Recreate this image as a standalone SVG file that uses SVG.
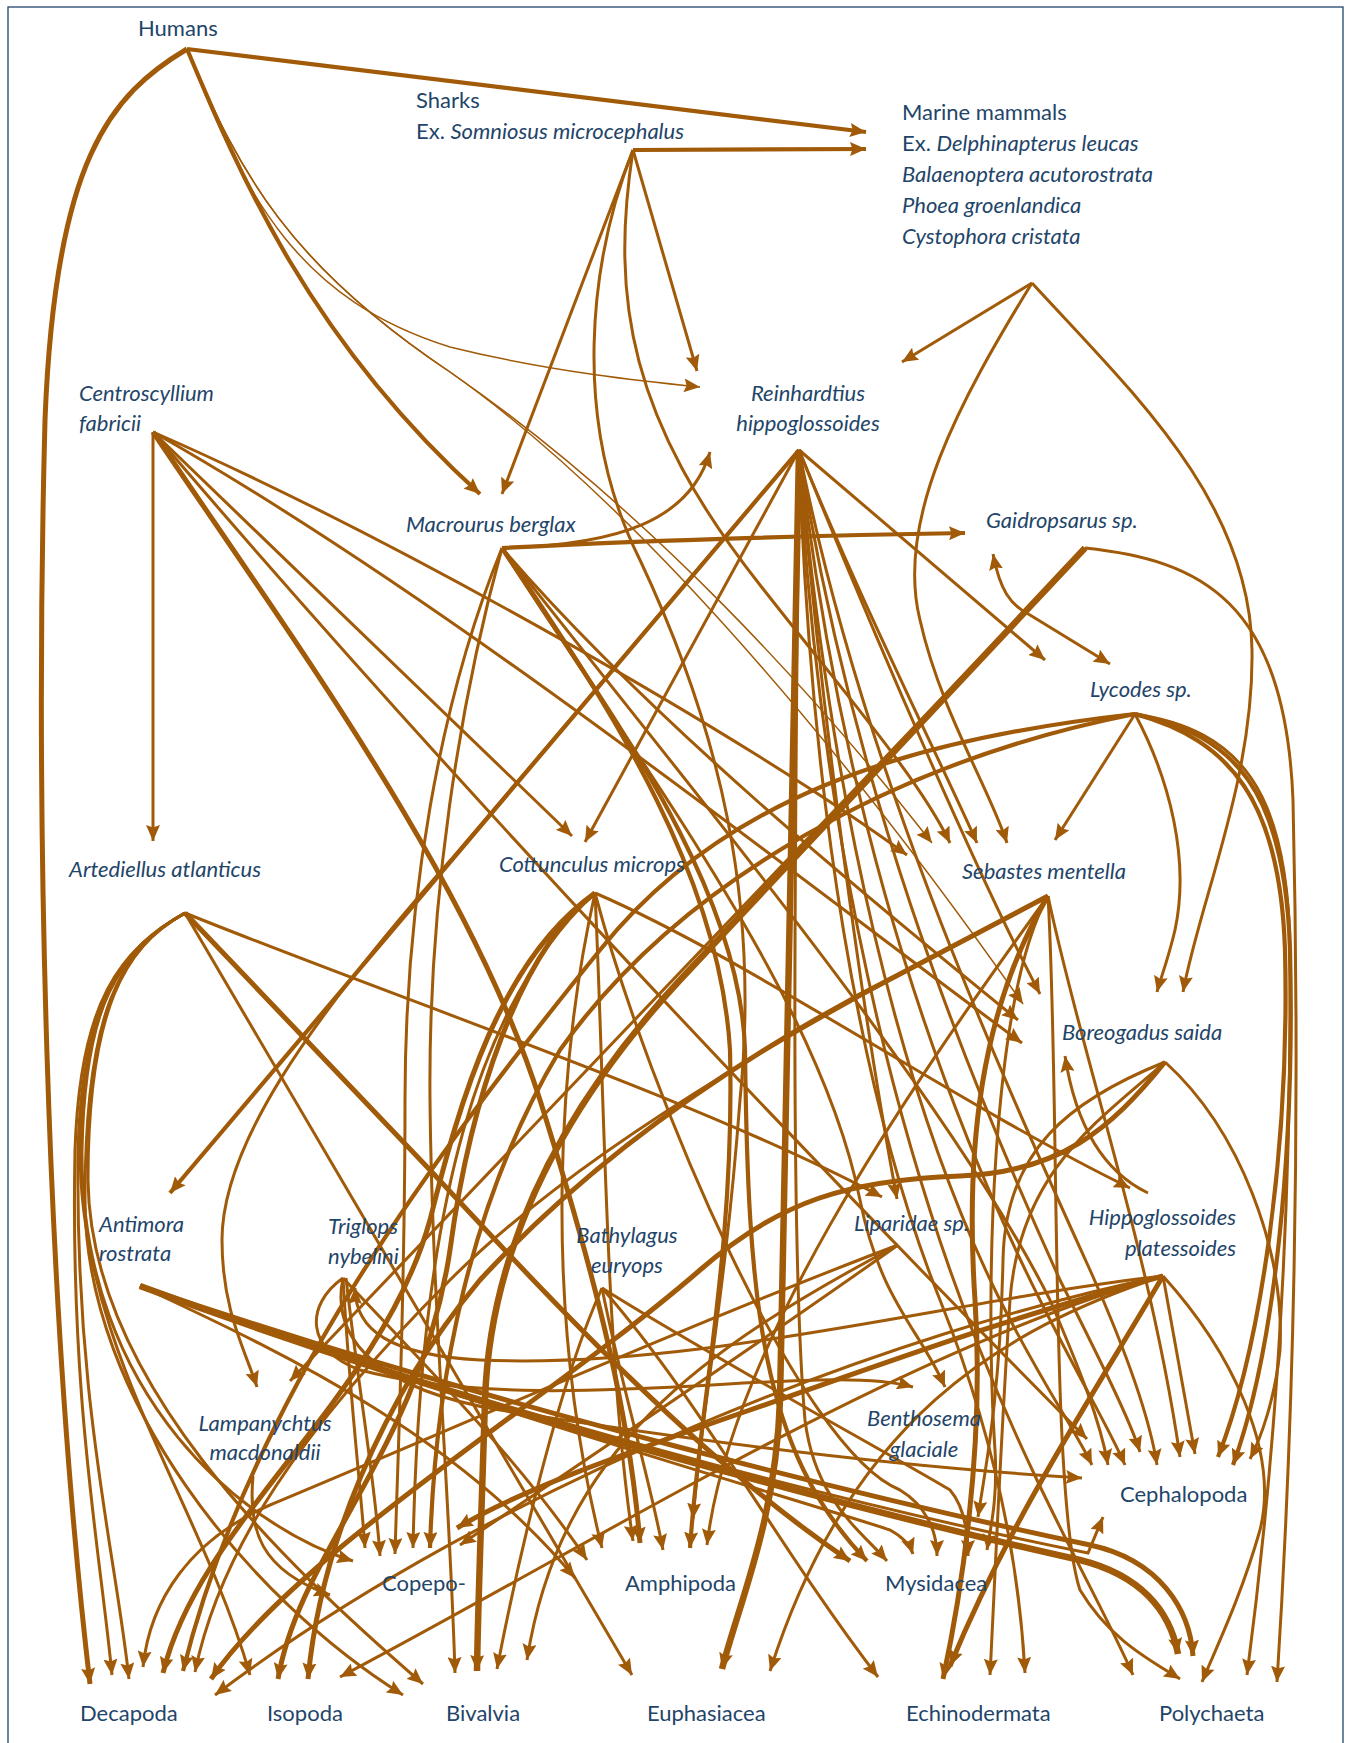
<svg xmlns="http://www.w3.org/2000/svg" width="1347" height="1743" viewBox="0 0 1347 1743">
<style>
.e{fill:none;stroke:#a05a08;stroke-width:3;marker-end:url(#ah)}
.w1{stroke-width:1.5}
.w4{stroke-width:4.2}
.w5{stroke-width:5}
.w6{stroke-width:6.5}
.both{marker-start:url(#ahs)}
.t{font-family:Lato,"Open Sans","Liberation Sans",sans-serif;font-size:22px;fill:#1f4569}
.i{font-style:italic}
</style>
<defs>
<marker id="ah" markerUnits="userSpaceOnUse" markerWidth="17" markerHeight="14" refX="16" refY="7" orient="auto"><path d="M0,0 L16,7 L0,14 L2.5,7 z" fill="#a05a08"/></marker>
<marker id="ahs" markerUnits="userSpaceOnUse" markerWidth="17" markerHeight="14" refX="16" refY="7" orient="auto-start-reverse"><path d="M0,0 L16,7 L0,14 L2.5,7 z" fill="#a05a08"/></marker>
</defs>
<rect x="8" y="7" width="1335" height="1760" fill="none" stroke="#1f4569" stroke-width="1.3"/>
<g id="edges">
<!-- Humans -->
<path class="e w4" d="M187,49 L866,132"/>
<path class="e w1" d="M187,49 C245,200 300,300 450,347 C550,372 650,382 700,387"/>
<path class="e w4" d="M187,49 C240,175 310,340 480,494"/>
<path class="e w1" d="M187,49 C240,175 290,265 450,372 C650,510 820,700 932,843"/>
<path class="e w1" d="M187,49 C240,175 290,265 450,372 C660,520 880,800 1023,1004"/>
<path class="e w5" d="M187,49 C110,95 55,160 45,420 C35,800 45,1300 90,1684"/>
<!-- Sharks -->
<path class="e w4" d="M633,150 L866,149"/>
<path class="e" d="M633,150 L697,371"/>
<path class="e" d="M633,150 L502,494"/>
<path class="e" d="M633,150 C590,260 570,420 640,560 C720,730 760,900 740,1100 C725,1300 700,1420 693,1519"/>
<path class="e" d="M633,150 C610,300 630,420 760,585 C850,700 920,780 950,843"/>
<!-- Marine mammals -->
<path class="e" d="M1032,283 L902,362"/>
<path class="e" d="M1032,283 C960,400 895,520 920,620 C940,710 990,790 1007,843"/>
<path class="e" d="M1032,283 C1130,390 1250,500 1252,650 C1254,780 1200,900 1183,992"/>
<!-- Centroscyllium -->
<path class="e" d="M153,432 L153,841"/>
<path class="e" d="M153,432 L572,836"/>
<path class="e" d="M153,432 C400,540 750,740 907,855"/>
<path class="e" d="M153,432 C450,600 800,880 1022,1043"/>
<path class="e w5" d="M153,432 C300,650 470,880 540,1100 C600,1290 630,1420 640,1543"/>
<path class="e" d="M153,432 C450,780 800,1150 1087,1439"/>
<!-- Reinhardtius -->
<path class="e" d="M799,450 L1045,660"/>
<path class="e" d="M799,450 L585,842"/>
<path class="e" d="M799,450 C860,600 940,760 977,843"/>
<path class="e" d="M799,450 C880,650 980,880 1040,994"/>
<path class="e" d="M799,450 C820,700 860,1000 897,1199"/>
<path class="e w4" d="M799,450 L170,1193"/>
<path class="e" d="M799,450 L455,855 C300,1030 222,1150 222,1240 C222,1310 245,1350 257,1387"/>
<path class="e w6" d="M799,450 C792,800 785,1200 780,1400 C776,1520 740,1600 722,1669"/>
<path class="e" d="M799,450 C795,850 790,1250 805,1420 C815,1500 860,1530 887,1561"/>
<path class="e" d="M799,450 C830,800 900,1100 1000,1300 C1040,1380 1075,1430 1092,1465"/>
<path class="e" d="M799,450 C840,800 930,1080 1040,1300 C1080,1380 1110,1430 1125,1465"/>
<path class="e" d="M799,450 C850,780 960,1060 1060,1280 C1100,1360 1130,1420 1140,1452"/>
<path class="e" d="M799,450 C860,760 990,1050 1090,1270 C1130,1360 1150,1420 1157,1465"/>
<path class="e" d="M799,450 C810,800 860,1100 940,1300 C1000,1450 1020,1580 1025,1673"/>
<path class="e" d="M799,450 C815,780 880,1100 980,1350 C1040,1500 1100,1600 1133,1675"/>
<!-- Macrourus -->
<path class="e w4" d="M502,548 C650,540 850,535 965,533"/>
<path class="e" d="M502,548 C620,545 690,520 710,452"/>
<path class="e" d="M502,548 C650,720 870,900 1018,1020"/>
<path class="e" d="M502,548 C440,700 405,900 405,1100 C405,1300 398,1450 395,1554"/>
<path class="e" d="M502,548 C460,700 428,900 430,1100 C432,1300 450,1500 455,1673"/>
<path class="e w4" d="M502,548 C600,700 740,880 745,1050 C748,1300 760,1450 867,1561"/>
<path class="e w4" d="M502,548 C620,720 720,880 730,1050 C735,1250 700,1400 690,1548"/>
<path class="e" d="M502,548 C650,780 820,1000 860,1200 C880,1300 920,1330 945,1387"/>
<path class="e" d="M502,548 C700,800 950,1100 1050,1300 C1080,1370 1100,1420 1108,1465"/>
<!-- Gaidropsarus -->
<path class="e w6" d="M1085,548 L680,980 C560,1110 490,1250 485,1400 C482,1500 478,1600 477,1671"/>
<path class="e" d="M1085,548 L290,1381"/>
<path class="e" d="M1085,548 C1200,560 1285,600 1293,800 C1300,1100 1295,1400 1277,1682"/>
<path class="e both" d="M993,554 C1000,590 1010,605 1030,615 L1110,664"/>
<!-- Lycodes -->
<path class="e" d="M1135,714 L1055,840"/>
<path class="e" d="M1135,714 C1170,780 1190,860 1175,930 C1168,960 1160,980 1157,992"/>
<path class="e w4" d="M1135,714 C1230,740 1280,800 1285,950 C1290,1150 1260,1350 1218,1457"/>
<path class="e w4" d="M1135,714 C1235,735 1285,790 1290,950 C1295,1150 1275,1350 1233,1465"/>
<path class="e" d="M1135,714 C1240,730 1288,790 1290,950 C1292,1250 1270,1500 1247,1675"/>
<path class="e w4" d="M1135,714 C900,740 720,800 600,950 C430,1160 250,1400 183,1671"/>
<path class="e w4" d="M1135,714 C900,760 680,880 560,1050 C470,1200 435,1380 430,1548"/>
<!-- Artediellus -->
<path class="e" d="M185,913 C120,950 80,1000 75,1150 C70,1400 100,1550 112,1675"/>
<path class="e" d="M185,913 C125,945 82,1000 78,1150 C75,1400 115,1550 129,1679"/>
<path class="e" d="M185,913 C120,950 82,1010 80,1150 C80,1350 200,1500 250,1675"/>
<path class="e" d="M185,913 C120,950 85,1010 85,1200 C85,1400 250,1600 403,1695"/>
<path class="e" d="M185,913 C125,945 88,1010 88,1180 C90,1380 280,1560 423,1684"/>
<path class="e" d="M185,913 C120,950 85,1000 82,1150 C80,1400 250,1530 353,1561"/>
<path class="e" d="M185,913 L632,1675"/>
<path class="e w5" d="M185,913 L430,1170 C560,1310 700,1460 850,1561"/>
<path class="e" d="M185,913 C400,1000 700,1100 882,1197"/>
<!-- Cottunculus -->
<path class="e w5" d="M595,893 C500,960 460,1100 430,1220 C380,1400 200,1520 163,1673"/>
<path class="e w5" d="M595,893 C520,950 470,1100 450,1250 C420,1450 300,1550 278,1679"/>
<path class="e" d="M595,893 C480,1000 420,1200 413,1548"/>
<path class="e" d="M595,893 C560,1050 540,1300 602,1548"/>
<path class="e" d="M595,893 C605,1100 605,1350 633,1541"/>
<path class="e" d="M595,893 C650,1100 800,1450 900,1490 C925,1505 937,1530 937,1556"/>
<path class="e" d="M595,893 C750,960 950,1100 1130,1188"/>
<!-- Sebastes -->
<path class="e w5" d="M1048,896 L900,974 C750,1050 600,1150 480,1280 C380,1400 320,1550 308,1679"/>
<path class="e" d="M1048,896 C850,1000 600,1130 450,1280 C300,1430 220,1550 195,1672"/>
<path class="e" d="M1048,896 C900,1100 730,1350 707,1545"/>
<path class="e" d="M1048,896 C990,1000 985,1300 995,1450 C998,1500 990,1530 987,1550"/>
<path class="e w5" d="M1048,896 C980,1010 965,1150 975,1300 C985,1450 960,1600 943,1679"/>
<path class="e" d="M1048,896 C1080,1050 1150,1250 1180,1457"/>
<path class="e" d="M1048,896 C1060,1100 1050,1500 1080,1590 C1110,1640 1150,1660 1180,1679"/>
<!-- Boreogadus -->
<path class="e w5" d="M1165,1062 C1110,1130 1060,1172 960,1176 C850,1180 780,1200 700,1270 C550,1400 300,1550 211,1679"/>
<path class="e" d="M1165,1062 C1070,1100 1005,1150 1003,1260 C1000,1400 985,1470 978,1517"/>
<path class="e" d="M1165,1062 C1100,1120 1020,1170 1010,1300 C1000,1450 995,1580 990,1675"/>
<path class="e" d="M1165,1062 C1240,1130 1285,1250 1280,1350 C1275,1400 1260,1440 1250,1459"/>
<!-- Antimora -->
<path class="e w6" d="M140,1286 C500,1420 900,1520 1080,1560 C1140,1575 1170,1610 1178,1654"/>
<path class="e w5" d="M140,1286 C500,1410 900,1505 1090,1545 C1160,1560 1190,1610 1193,1656"/>
<path class="e" d="M140,1286 C500,1415 850,1505 1088,1553 L1103,1517"/>
<path class="e" d="M140,1286 C450,1400 800,1500 890,1530 C903,1537 910,1545 913,1554"/>
<path class="e" d="M140,1286 C300,1360 460,1440 575,1578"/>
<!-- Triglops -->
<path class="e" d="M343,1278 C350,1400 360,1480 365,1548"/>
<path class="e" d="M346,1278 C360,1400 375,1480 380,1556"/>
<path class="e" d="M343,1278 C420,1360 520,1460 587,1560"/>
<path class="e" d="M343,1278 C305,1305 305,1350 360,1370 C550,1420 820,1360 913,1387"/>
<path class="e" d="M343,1278 C330,1340 380,1390 500,1410 C750,1450 950,1470 1082,1478"/>
<!-- Bathylagus -->
<path class="e" d="M602,1288 C560,1380 520,1550 497,1669"/>
<path class="e" d="M602,1288 C620,1380 650,1480 663,1550"/>
<path class="e" d="M602,1288 C700,1400 780,1550 878,1677"/>
<path class="e" d="M602,1288 C700,1350 900,1460 950,1490 C963,1505 968,1530 968,1556"/>
<!-- Liparidae -->
<path class="e" d="M898,1245 C700,1320 450,1430 270,1505 C190,1540 150,1600 143,1667"/>
<path class="e" d="M898,1245 C750,1350 600,1450 460,1545"/>
<path class="e" d="M898,1245 C700,1350 560,1450 527,1660"/>
<!-- Hippoglossoides -->
<path class="e" d="M1148,1193 C1100,1170 1075,1120 1065,1056"/>
<path class="e" d="M1163,1276 C900,1330 500,1480 215,1695"/>
<path class="e" d="M1163,1276 C900,1350 600,1540 340,1677"/>
<path class="e w5" d="M1163,1276 C1000,1320 880,1365 750,1410 C620,1455 520,1490 457,1528"/>
<path class="e" d="M1163,1276 C950,1300 700,1370 480,1360 C390,1355 355,1330 355,1288"/>
<path class="e" d="M1163,1276 L1195,1454"/>
<path class="e w5" d="M1163,1276 C1090,1400 1010,1520 950,1666"/>
<path class="e" d="M1163,1276 C1230,1350 1280,1450 1260,1530 C1240,1600 1215,1650 1202,1682"/>
<path class="e" d="M1163,1276 C1000,1330 850,1420 770,1671"/>
<!-- Lampanychtus -->
<path class="e" d="M253,1476 C248,1530 260,1570 330,1595"/>
</g>
<g id="n-humans"><text class="t" x="138" y="36">Humans</text></g>
<g id="n-sharks"><text class="t" x="416" y="108">Sharks</text><text class="t" x="416" y="139">Ex. <tspan class="i">Somniosus microcephalus</tspan></text></g>
<g id="n-marine-mammals"><text class="t" x="902" y="120">Marine mammals</text><text class="t" x="902" y="151">Ex. <tspan class="i">Delphinapterus leucas</tspan></text><text class="t i" x="902" y="182">Balaenoptera acutorostrata</text><text class="t i" x="902" y="213">Phoea groenlandica</text><text class="t i" x="902" y="244">Cystophora cristata</text></g>
<g id="n-centroscyllium"><text class="t i" x="79" y="401">Centroscyllium</text><text class="t i" x="79" y="431">fabricii</text></g>
<g id="n-reinhardtius"><text class="t i" x="808" y="401" text-anchor="middle">Reinhardtius</text><text class="t i" x="808" y="431" text-anchor="middle">hippoglossoides</text></g>
<g id="n-macrourus"><text class="t i" x="406" y="532">Macrourus berglax</text></g>
<g id="n-gaidropsarus"><text class="t i" x="986" y="528">Gaidropsarus sp.</text></g>
<g id="n-lycodes"><text class="t i" x="1090" y="697">Lycodes sp.</text></g>
<g id="n-artediellus"><text class="t i" x="69" y="877">Artediellus atlanticus</text></g>
<g id="n-cottunculus"><text class="t i" x="499" y="872">Cottunculus microps</text></g>
<g id="n-sebastes"><text class="t i" x="962" y="879">Sebastes mentella</text></g>
<g id="n-boreogadus"><text class="t i" x="1062" y="1040">Boreogadus saida</text></g>
<g id="n-antimora"><text class="t i" x="99" y="1232">Antimora</text><text class="t i" x="99" y="1261">rostrata</text></g>
<g id="n-triglops"><text class="t i" x="328" y="1234">Triglops</text><text class="t i" x="328" y="1264">nybelini</text></g>
<g id="n-bathylagus"><text class="t i" x="627" y="1243" text-anchor="middle">Bathylagus</text><text class="t i" x="627" y="1273" text-anchor="middle">euryops</text></g>
<g id="n-liparidae"><text class="t i" x="854" y="1231">Liparidae sp.</text></g>
<g id="n-hippoglossoides"><text class="t i" x="1236" y="1225" text-anchor="end">Hippoglossoides</text><text class="t i" x="1236" y="1256" text-anchor="end">platessoides</text></g>
<g id="n-lampanychtus"><text class="t i" x="265" y="1431" text-anchor="middle">Lampanychtus</text><text class="t i" x="265" y="1460" text-anchor="middle">macdonaldii</text></g>
<g id="n-benthosema"><text class="t i" x="924" y="1426" text-anchor="middle">Benthosema</text><text class="t i" x="924" y="1457" text-anchor="middle">glaciale</text></g>
<g id="n-cephalopoda"><text class="t" x="1120" y="1502">Cephalopoda</text></g>
<g id="n-copepoda"><text class="t" x="382" y="1591">Copepo-</text></g>
<g id="n-amphipoda"><text class="t" x="625" y="1591">Amphipoda</text></g>
<g id="n-mysidacea"><text class="t" x="885" y="1591">Mysidacea</text></g>
<g id="n-decapoda"><text class="t" x="80" y="1721">Decapoda</text></g>
<g id="n-isopoda"><text class="t" x="267" y="1721">Isopoda</text></g>
<g id="n-bivalvia"><text class="t" x="446" y="1721">Bivalvia</text></g>
<g id="n-euphasiacea"><text class="t" x="647" y="1721">Euphasiacea</text></g>
<g id="n-echinodermata"><text class="t" x="906" y="1721">Echinodermata</text></g>
<g id="n-polychaeta"><text class="t" x="1159" y="1721">Polychaeta</text></g>
</svg>
